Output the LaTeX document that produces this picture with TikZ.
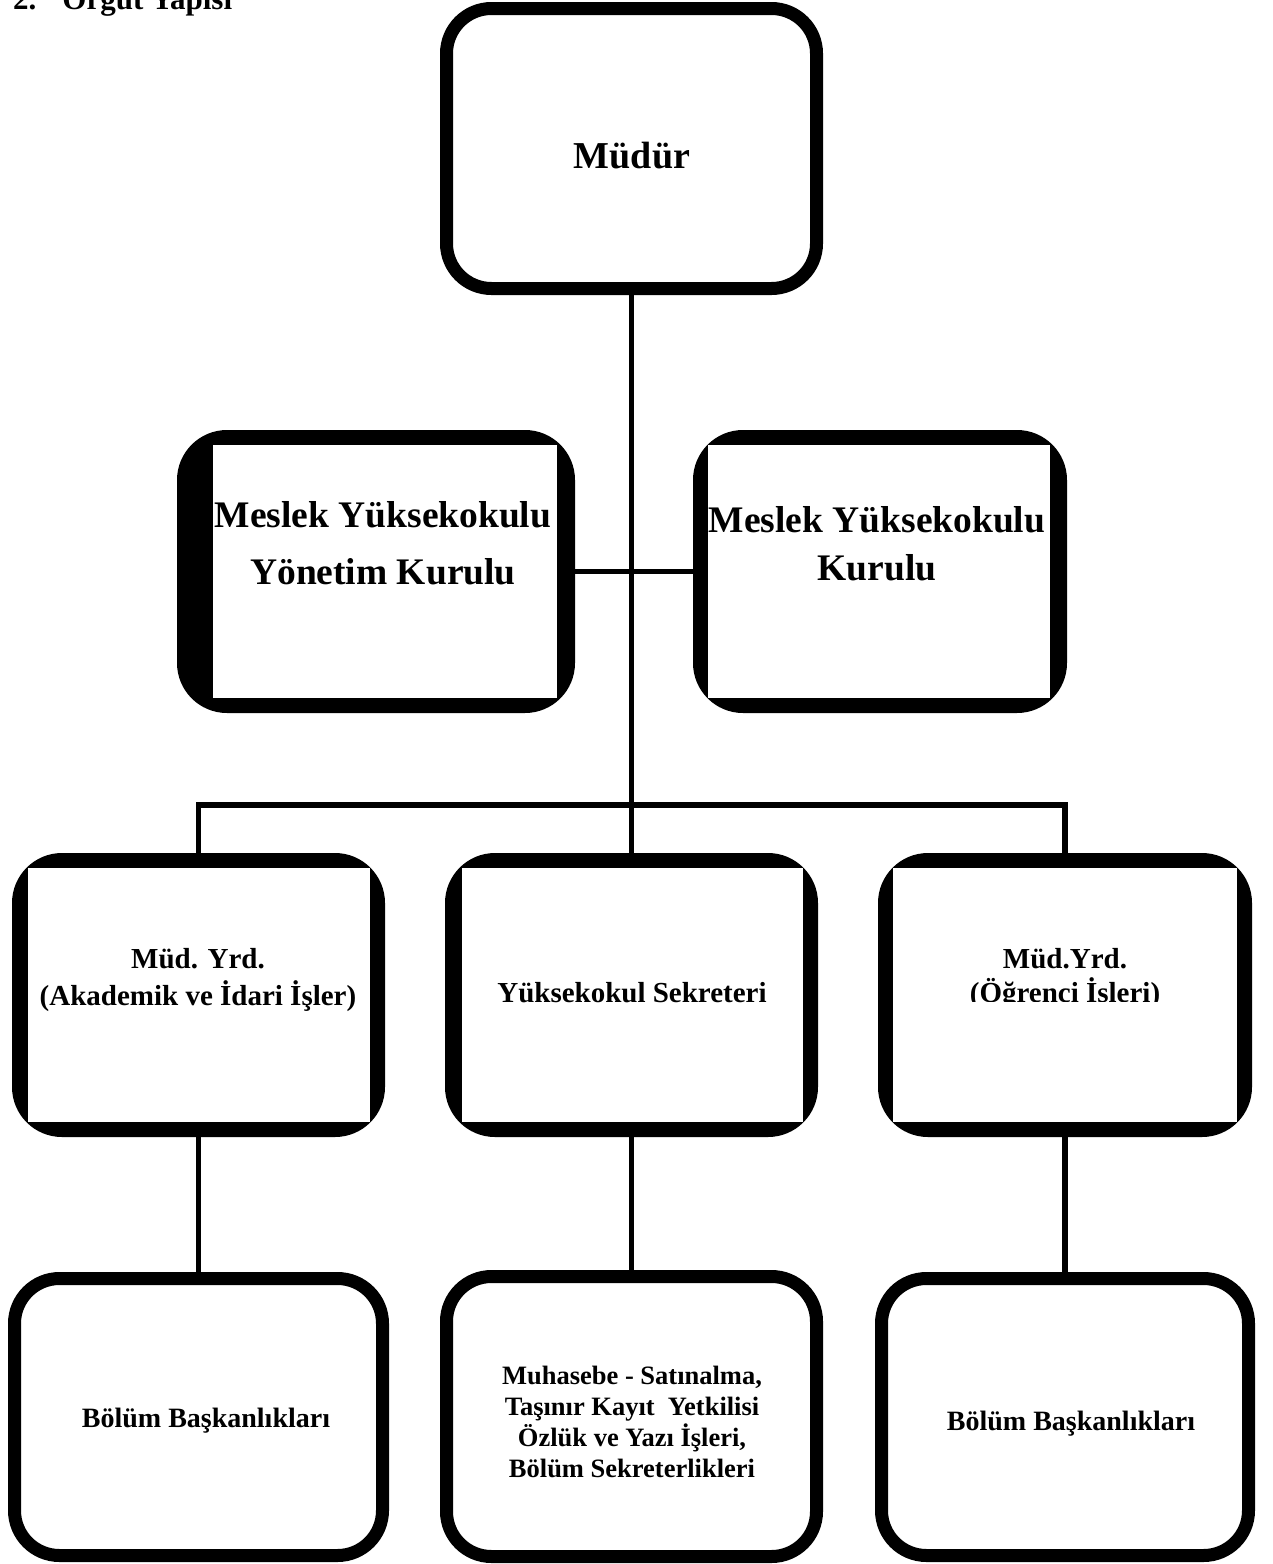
\documentclass[tikz,border=0pt]{standalone}
\usepackage{fontspec}
\setmainfont{Liberation Serif}
\begin{document}
\begin{tikzpicture}[x=1pt,y=-1pt,
  conn/.style={line width=5.5pt},
  outerbox/.style={fill=black, draw=none, rounded corners=50pt, inner sep=0pt, outer sep=0pt},
  innerbox/.style={fill=white, draw=none, inner sep=0pt, outer sep=0pt},
  roundbox/.style={draw=black, fill=white, line width=13pt, rounded corners=45pt, inner sep=0pt, outer sep=0pt},
  lbl/.style={align=center, inner sep=0pt, anchor=base},
]
\useasboundingbox (0,0) rectangle (1273,1564);
\clip (0,0) rectangle (1273,1564);
\fill[white] (0,0) rectangle (1273,1564);

% title (cut off at the top, as in the original)
\node[inner sep=0pt, anchor=base west, font=\bfseries\fontsize{31}{36}\selectfont] (title) at (13,9) {2.\hspace{26pt}Örgüt Yapısı};

% top box
\node[roundbox, minimum width=370pt, minimum height=280pt] (mudur) at (631.5,148.5) {};
\node[lbl, font=\bfseries\fontsize{38}{44}\selectfont] (tmudur) at (632,168) {Müdür};

% second level (councils)
\node[outerbox, minimum width=398pt, minimum height=283pt] (ykO) at (376,571.5) {};
\node[innerbox, minimum width=344pt, minimum height=253pt] (yk) at (385,571.5) {};
\node[lbl, font=\bfseries\fontsize{37.5}{57}\selectfont] (tyk) at (383,584) {Meslek Yüksekokulu\\Yönetim Kurulu};

\node[outerbox, minimum width=374pt, minimum height=283pt] (mkO) at (880,571.5) {};
\node[innerbox, minimum width=342pt, minimum height=253pt] (mk) at (879,571.5) {};
\node[lbl, font=\bfseries\fontsize{37.5}{48}\selectfont] (tmk) at (877,580) {Meslek Yüksekokulu\\Kurulu};

% third level
\node[outerbox, minimum width=373pt, minimum height=284pt] (akadO) at (198.5,995) {};
\node[innerbox, minimum width=342pt, minimum height=254pt] (akad) at (199,995) {};
\node[lbl, font=\bfseries\fontsize{29}{37}\selectfont] (takad) at (198,1005) {Müd. Yrd.\\(Akademik ve İdari İşler)};

\node[outerbox, minimum width=373pt, minimum height=284pt] (sekO) at (631.5,995) {};
\node[innerbox, minimum width=341pt, minimum height=254pt] (sek) at (632.5,995) {};
\node[lbl, font=\bfseries\fontsize{29}{36}\selectfont] (tsek) at (632,1002) {Yüksekokul Sekreteri};

\node[outerbox, minimum width=374pt, minimum height=284pt] (ogrO) at (1065,995) {};
\node[innerbox, minimum width=344pt, minimum height=254pt] (ogr) at (1065,995) {};
\begin{scope}
  \clip (893,868) rectangle (1237,1001);
  \node[lbl, font=\bfseries\fontsize{29}{34}\selectfont] (togr) at (1065,1002) {Müd.Yrd.\\(Öğrenci İşleri)};
\end{scope}

% fourth level
\node[roundbox, minimum width=368pt, minimum height=277pt] (bb1) at (198.5,1417) {};
\node[lbl, font=\bfseries\fontsize{28}{34}\selectfont] (tbb1) at (206,1427) {Bölüm Başkanlıkları};

\node[roundbox, minimum width=370pt, minimum height=280pt] (muh) at (631.5,1416.5) {};
\node[lbl, font=\bfseries\fontsize{26.5}{31}\selectfont] (tmuh) at (632,1477) {Muhasebe - Satınalma,\\Taşınır Kayıt\ \ Yetkilisi\\Özlük ve Yazı İşleri,\\Bölüm Sekreterlikleri};

\node[roundbox, minimum width=367pt, minimum height=277pt] (bb2) at (1065,1417) {};
\node[lbl, font=\bfseries\fontsize{28}{34}\selectfont] (tbb2) at (1071,1430) {Bölüm Başkanlıkları};

% connectors
\coordinate (busc) at (631.5,805);
\draw[conn] (mudur.south) -- (sekO.north);
\draw[conn] (ykO.east) -- (mkO.west);
\draw[conn] (akadO.north) |- (busc) -| (ogrO.north);
\draw[conn] (akadO.south) -- (bb1.north);
\draw[conn] (sekO.south) -- (muh.north);
\draw[conn] (ogrO.south) -- (bb2.north);
\end{tikzpicture}
\end{document}
